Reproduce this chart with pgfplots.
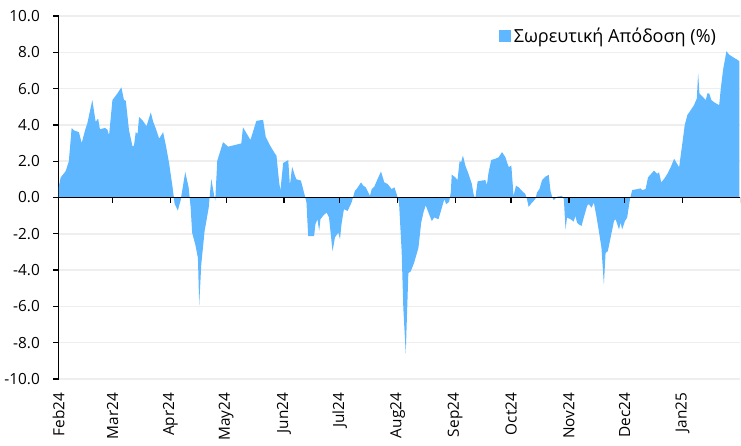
\documentclass[border=0pt]{standalone}
\usepackage{fontspec}
\setmainfont{Open Sans}
\usepackage{pgfplots}
\pgfplotsset{compat=1.18}
\definecolor{areaBlue}{HTML}{5FB7FF}
\definecolor{gridGray}{HTML}{EEEEEE}

\begin{document}
\begin{tikzpicture}
\begin{axis}[
  scale only axis,
  width=510pt, height=271.5pt,
  xmin=0, xmax=366,
  ymin=-10, ymax=10,
  ytick={-10,-8,...,10},
  yticklabel={\pgfmathprintnumber[fixed,fixed zerofill,precision=1,assume math mode=true]{\tick}},
  xtick={0,29,60,90,121,151,182,213,243,274,304,335},
  xticklabels={Feb24,Mar24,Apr24,May24,Jun24,Jul24,Aug24,Sep24,Oct24,Nov24,Dec24,Jan25},
  axis y line*=left, axis x line*=bottom,
  x axis line style={draw=none},
  xtick style={draw=none},
  y axis line style={line width=1pt},
  ytick style={black, line width=1pt},
  major tick length=4pt,
  tick align=outside,
  xticklabel style={rotate=90, anchor=east, font=\fontsize{11.5}{13}\selectfont},
  yticklabel style={font=\fontsize{11.5}{13}\selectfont},
  xticklabel shift=3pt,
  yticklabel shift=6.5pt,
  ymajorgrids,
  major grid style={gridGray, line width=1.2pt},
  legend style={at={(0.64,0.945)}, anchor=west, draw=none, fill=none,
    font=\fontsize{13.5}{15}\selectfont, legend cell align=left},
  legend image code/.code={\fill[areaBlue] (0pt,-4.5pt) rectangle (9pt,4.5pt);},
]
\addplot[fill=areaBlue, draw=none] coordinates {
(0,0.55) (1.1,1.1) (3.8,1.45) (5.5,2.0) (7.0,3.83) (8.2,3.7) (10.9,3.6) (12.4,3.0)
(14.2,3.7) (15.4,4.07) (18.1,5.37) (19.9,4.17) (21.2,4.35) (22.2,3.76) (24.9,3.83)
(26.2,3.74) (27.1,3.43) (28.9,5.37) (31.6,5.74) (33.7,6.07) (35.1,5.37) (36.1,5.33)
(37.8,3.7) (39.7,2.81) (40.5,2.87) (41.4,3.6) (42.4,3.5) (43.2,4.44) (45.0,4.26)
(47.2,3.93) (49.5,4.69) (50.8,4.17) (52.2,3.8) (54.0,3.24) (56.1,3.6) (57.6,2.87)
(59.4,1.85) (61.2,0.56) (62.3,-0.35) (64.0,-0.72) (65.5,-0.17) (68.0,1.4) (69.8,0.57)
(70.9,-0.54) (71.7,-1.94) (73.4,-2.6) (74.8,-3.33) (75.5,-5.93) (76.6,-3.7) (78.4,-1.85)
(80.6,-0.56) (81.4,0.37) (82.0,1.02) (83.4,0.18) (84.1,-0.17) (85.2,2.03) (88.3,3.05)
(91.0,2.8) (98.1,2.98) (99.0,3.87) (103.0,3.17) (104.4,3.63) (106.2,4.22) (109.8,4.28)
(111.2,3.35) (113.4,2.89) (116.1,2.43) (117.0,2.3) (118.4,0.85) (119.1,0.39) (120.6,1.9)
(123.3,2.06) (124.2,0.67) (125.4,1.7) (126.9,1.2) (127.7,1.0) (130.1,0.93) (131.3,0.46)
(132.2,0.1) (133.1,-0.28) (134.0,-2.13) (137.2,-2.13) (137.9,-1.48) (139.0,-1.2)
(139.9,-1.85) (140.6,-1.2) (142.1,-1.0) (143.9,-0.83) (145.2,-1.1) (147.1,-2.96)
(148.4,-2.2) (150.2,-1.94) (151.1,-2.3) (151.9,-1.48) (153.2,-0.65) (155.2,-0.74)
(157.3,-0.28) (159.1,0.37) (160.0,0.46) (162.4,0.83) (163.6,0.65) (164.9,0.56)
(167.2,0.09) (168.1,0.46) (169.5,0.59) (171.3,1.02) (173.1,1.43) (174.9,0.83)
(176.7,0.74) (178.8,0.46) (180.3,0.56) (181.5,0.19) (182.8,-0.28) (184.2,-2.96)
(185.1,-6.1) (186.4,-8.6) (187.8,-4.17) (189.1,-4.07) (190.9,-3.6) (193.2,-2.78)
(194.7,-1.39) (195.9,-0.83) (197.1,-0.43) (198.6,-0.83) (200.4,-1.3) (201.7,-1.1)
(204.0,-1.2) (205.8,-0.56) (207.1,-0.09) (208.1,-0.37) (209.7,-0.24) (210.6,0.28)
(211.1,1.26) (213.0,1.11) (214.2,0.96) (215.3,2.0) (216.2,1.95) (217.1,2.31) (218.4,1.76)
(220.1,1.3) (221.9,0.74) (222.8,0.19) (223.7,-0.09) (225.0,0.89) (227.3,0.93) (229.1,0.96)
(230.0,0.7) (230.9,1.39) (232.3,2.07) (234.5,2.13) (236.3,2.22) (238.1,2.5) (239.9,2.22)
(241.7,1.67) (243.1,1.76) (244.3,0.09) (245.6,0.65) (247.0,0.56) (248.8,0.37) (250.6,0.19)
(251.5,-0.09) (252.4,-0.52) (254.2,-0.28) (256.0,-0.09) (256.9,0.28) (258.2,0.46)
(259.6,0.96) (261.4,1.15) (263.2,1.24) (264.1,0.37) (265.0,0.04) (265.9,-0.15) (267.7,0.04)
(270.3,0.09) (271.3,-0.09) (272.2,-1.76) (273.0,-1.11) (274.9,-1.2) (276.6,-1.33)
(277.5,-1.02) (278.4,-1.39) (279.3,-1.48) (280.8,-1.57) (282.0,-1.11) (283.8,-0.46)
(284.7,-0.37) (286.2,-0.56) (287.4,-0.28) (288.6,-0.93) (290.1,-1.85) (291.5,-2.78)
(292.8,-4.81) (293.7,-3.06) (294.9,-2.96) (296.4,-2.22) (298.2,-1.3) (299.1,-1.2)
(300.9,-1.76) (301.8,-1.39) (302.6,-1.76) (304.1,-1.3) (305.3,-1.11) (306.8,-0.09)
(308.0,0.41) (310.7,0.46) (312.5,0.5) (313.4,0.41) (315.2,0.46) (316.5,1.11) (319.7,1.48)
(321.5,1.3) (322.4,1.39) (323.6,0.83) (325.1,1.02) (326.9,1.3) (328.7,1.67) (330.5,2.13)
(331.9,1.89) (333.2,1.67) (334.9,2.96) (336.2,3.98) (337.6,4.54) (339.4,4.81) (341.2,5.09)
(342.7,5.46) (343.4,6.85) (344.1,5.74) (345.7,5.56) (347.5,5.37) (348.4,5.74) (349.3,5.74)
(350.5,5.37) (352.4,5.22) (354.7,5.09) (355.6,6.02) (356.8,7.04) (358.6,8.06) (360.1,7.87)
(362.8,7.69) (364.5,7.59) (365.6,7.5)
} \closedcycle;
\addlegendentry{Σωρευτική Απόδοση (\%)}

% zero line with the month ticks, and the y axis line over the fill
\draw[black, line width=1.1pt] (axis cs:0,0) -- (axis cs:366,0);
\pgfplotsinvokeforeach{29,60,90,121,151,182,213,243,274,304,335,366}{
  \draw[black, line width=1pt] (axis cs:#1,0) -- ++(0pt,-4pt);
}
\draw[black, line width=1pt] (axis cs:0,-10) -- (axis cs:0,10);
\end{axis}
% white space above the plot area, as in the reference
\path ([yshift=12pt]current axis.north);
\end{tikzpicture}
\end{document}
